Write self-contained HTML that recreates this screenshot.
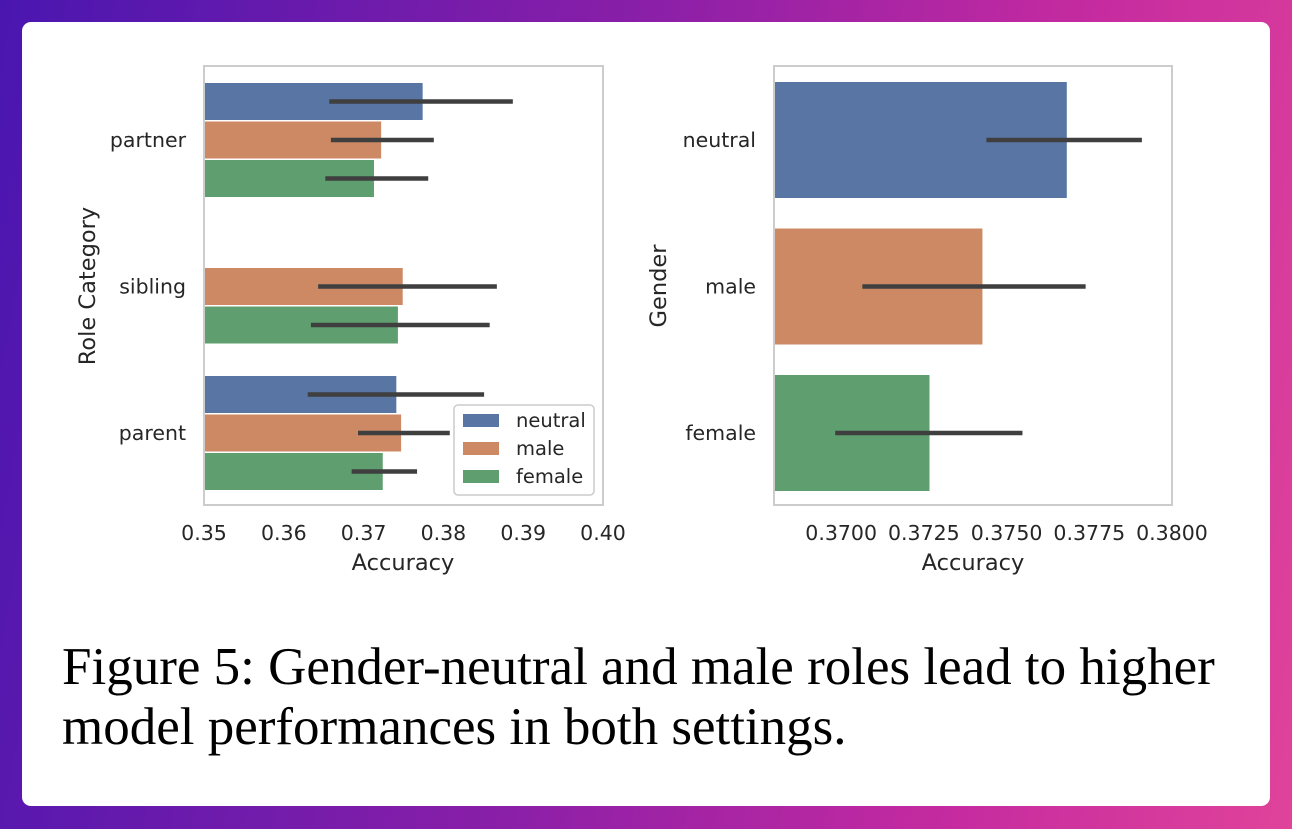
<!DOCTYPE html>
<html><head><meta charset="utf-8">
<style>
html,body{margin:0;padding:0;width:1292px;height:829px;overflow:hidden}
body{background:linear-gradient(100deg,#4a16b0 0%,#8a1fa8 45%,#c42aa0 75%,#e0439a 100%);font-family:"DejaVu Sans","Liberation Sans",sans-serif}
#card{position:absolute;left:22px;top:22px;width:1248px;height:784px;background:#fff;border-radius:9px}
svg{position:absolute;left:0;top:0}
#caption{position:absolute;left:62px;top:637px;font-family:"Liberation Serif",serif;font-size:53px;line-height:60px;color:#000;white-space:nowrap}
</style></head><body>
<div id="card"></div>
<svg id="chart" width="1292" height="829"></svg>
<div id="caption">Figure 5: Gender-neutral and male roles lead to higher<br>model performances in both settings.</div>
<script>
const roleCategories=["partner","sibling","parent"];
const genders=["neutral","male","female"];
const colors=["#5975a4","#cc8963","#5f9e6e"];
// left chart values [category][gender], null = missing
const leftValues=[[0.3774,0.3722,0.3713],[null,0.3749,0.3743],[0.3741,0.3747,0.3724]];
const leftErrLow=[[0.3657,0.3659,0.3652],[null,0.3643,0.3634],[0.3630,0.3693,0.3685]];
const leftErrHigh=[[0.3887,0.3788,0.3781],[null,0.3867,0.3858],[0.3851,0.3808,0.3767]];
const leftTicks=[0.35,0.36,0.37,0.38,0.39,0.40];
const leftTickLabels=["0.35","0.36","0.37","0.38","0.39","0.40"];
// right chart
const rightValues=[0.37682,0.37427,0.37267];
const rightErrLow=[0.37439,0.37064,0.36982];
const rightErrHigh=[0.37909,0.37739,0.37548];
const rightTicks=[0.37,0.3725,0.375,0.3775,0.38];
const rightTickLabels=["0.3700","0.3725","0.3750","0.3775","0.3800"];

const NS="http://www.w3.org/2000/svg";
const svg=document.getElementById('chart');
function mk(tag,attrs,parent,text){const e=document.createElementNS(NS,tag);for(const k in attrs)e.setAttribute(k,attrs[k]);if(text!==undefined)e.textContent=text;(parent||svg).appendChild(e);return e;}

const L={x0:204,x1:603,y0:66,y1:505,d0:0.35,d1:0.40};
const lx=v=>L.x0+(v-L.d0)/(L.d1-L.d0)*(L.x1-L.x0);
const R={x0:774,x1:1172,y0:66,y1:505,d0:0.36797,d1:0.3800};
const rx=v=>R.x0+(v-R.d0)/(R.d1-R.d0)*(R.x1-R.x0);
const TF=20.5, AF=22.5;

function frame(A,name){
  const r=mk('rect',{x:A.x0,y:A.y0,width:A.x1-A.x0,height:A.y1-A.y0,fill:'none',stroke:'#cccccc','stroke-width':2});
  
  
}
const groupCenters=[140,287,433];
const lgL=mk('g',{});


roleCategories.forEach((c,i)=>{
  const cy=groupCenters[0]+i*(groupCenters[2]-groupCenters[0])/2;
  genders.forEach((g,j)=>{
    const v=leftValues[i][j];
    if(v===null)return;
    const by=cy+(j-1)*38.5;
    const b=mk('rect',{x:lx(L.d0),y:by-18.5,width:lx(v)-lx(L.d0),height:37,fill:colors[j]},lgL);
    
    
    const e=mk('line',{x1:lx(leftErrLow[i][j]),x2:lx(leftErrHigh[i][j]),y1:by,y2:by,stroke:'#3f3f3f','stroke-width':4.5},lgL);
    
    
  });
  const t=mk('text',{x:186,y:cy+7,'text-anchor':'end','font-size':TF,fill:'#262626'},svg,c);
  
  
});
frame(L,'left-axes-frame');
leftTicks.forEach((v,i)=>{
  const t=mk('text',{x:lx(v),y:540,'text-anchor':'middle','font-size':TF,fill:'#262626'},svg,leftTickLabels[i]);
  
  
});
let t1=mk('text',{x:403,y:570,'text-anchor':'middle','font-size':AF,fill:'#262626'},svg,'Accuracy');


let t2=mk('text',{x:0,y:0,'text-anchor':'middle','font-size':AF,fill:'#262626',transform:'translate(95,286) rotate(-90)'},svg,'Role Category');



const lg=mk('g',{});


mk('rect',{x:454,y:405,width:140,height:90,rx:4,fill:'#fff',stroke:'#cccccc','stroke-width':1.5},lg);
genders.forEach((g,j)=>{
  const y=420+j*28;
  const s=mk('rect',{x:463,y:y-6,width:36,height:13,fill:colors[j]},lg);
  
  
  const t=mk('text',{x:516,y:y+7,'font-size':19.5,fill:'#262626'},lg,g);
  
  
});

const rg=mk('g',{});


genders.forEach((g,j)=>{
  const cy=140+j*146.5;
  const b=mk('rect',{x:rx(R.d0),y:cy-58,width:rx(rightValues[j])-rx(R.d0),height:116,fill:colors[j]},rg);
  
  
  const e=mk('line',{x1:rx(rightErrLow[j]),x2:rx(rightErrHigh[j]),y1:cy,y2:cy,stroke:'#3f3f3f','stroke-width':4.5},rg);
  
  
  const t=mk('text',{x:756,y:cy+7,'text-anchor':'end','font-size':TF,fill:'#262626'},svg,g);
  
  
});
frame(R,'right-axes-frame');
rightTicks.forEach((v,i)=>{
  const t=mk('text',{x:rx(v),y:540,'text-anchor':'middle','font-size':TF,fill:'#262626'},svg,rightTickLabels[i]);
  
  
});
let t3=mk('text',{x:973,y:570,'text-anchor':'middle','font-size':AF,fill:'#262626'},svg,'Accuracy');


let t4=mk('text',{x:0,y:0,'text-anchor':'middle','font-size':AF,fill:'#262626',transform:'translate(666,286) rotate(-90)'},svg,'Gender');


</script>
</body></html>
